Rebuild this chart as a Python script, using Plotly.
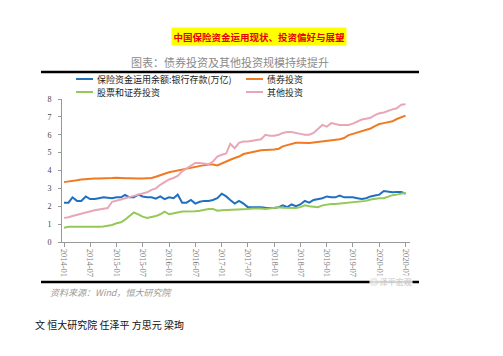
import pandas as pd
import plotly.graph_objects as go

# ---- data (monthly, 2014-01 .. 2020-07), 万亿 ----
months = pd.date_range("2014-01-01", "2020-07-01", freq="MS")

bank_deposit = [2.2, 2.2, 2.5, 2.3, 2.3, 2.55, 2.4, 2.4, 2.45, 2.5, 2.48, 2.45,
                2.5, 2.5, 2.63, 2.5, 2.5, 2.65, 2.55, 2.5, 2.5, 2.42, 2.55, 2.4,
                2.5, 2.45, 2.65, 2.2, 2.2, 2.35, 2.15, 2.25, 2.3, 2.3, 2.35, 2.45,
                2.7, 2.55, 2.35, 2.15, 2.3, 2.15, 1.95, 1.95, 1.98, 1.95, 1.92, 1.9,
                1.9, 1.95, 2.05, 1.95, 2.1, 2.0, 2.1, 2.3, 2.2, 2.35, 2.4, 2.45,
                2.55, 2.5, 2.5, 2.6, 2.5, 2.5, 2.5, 2.45, 2.4, 2.45, 2.55, 2.6,
                2.65, 2.85, 2.8, 2.78, 2.8, 2.8, 2.7]

bonds = [3.35, 3.37, 3.40, 3.45, 3.50, 3.53, 3.55, 3.55, 3.55, 3.55, 3.56, 3.58,
         3.60, 3.57, 3.57, 3.56, 3.54, 3.55, 3.55, 3.55, 3.58, 3.65, 3.75, 3.82,
         3.90, 3.95, 4.00, 4.05, 4.12, 4.18, 4.22, 4.27, 4.30, 4.33, 4.33, 4.28,
         4.40, 4.50, 4.60, 4.70, 4.78, 4.92, 4.98, 5.02, 5.10, 5.13, 5.14, 5.15,
         5.17, 5.22, 5.35, 5.42, 5.50, 5.55, 5.55, 5.53, 5.54, 5.57, 5.60, 5.65,
         5.68, 5.68, 5.70, 5.75, 5.82, 5.98, 6.05, 6.12, 6.18, 6.25, 6.35, 6.48,
         6.60, 6.65, 6.68, 6.75, 6.88, 7.00, 7.07]

stocks = [0.8, 0.85, 0.85, 0.85, 0.83, 0.82, 0.82, 0.84, 0.85, 0.87, 0.9, 0.95,
          1.05, 1.1, 1.25, 1.45, 1.65, 1.55, 1.42, 1.35, 1.38, 1.45, 1.55, 1.7,
          1.55, 1.58, 1.65, 1.7, 1.7, 1.7, 1.72, 1.75, 1.8, 1.85, 1.85, 1.75,
          1.77, 1.78, 1.8, 1.8, 1.8, 1.82, 1.85, 1.88, 1.9, 1.88, 1.85, 1.88,
          1.92, 1.95, 1.92, 1.9, 1.9, 1.9, 1.95, 2.05, 2.0, 1.97, 1.95, 2.05,
          2.1, 2.12, 2.12, 2.15, 2.18, 2.2, 2.22, 2.25, 2.27, 2.3, 2.38, 2.42,
          2.45, 2.45, 2.55, 2.62, 2.65, 2.7, 2.75]

other = [1.35, 1.38, 1.45, 1.52, 1.58, 1.65, 1.72, 1.78, 1.82, 1.86, 1.90, 2.25,
         2.30, 2.38, 2.45, 2.50, 2.58, 2.65, 2.70, 2.78, 2.92, 3.00, 3.20, 3.35,
         3.50, 3.58, 3.70, 3.95, 4.10, 4.30, 4.42, 4.42, 4.38, 4.35, 4.50, 4.78,
         4.88, 4.95, 5.50, 5.25, 5.55, 5.62, 5.62, 5.65, 5.70, 5.75, 6.00, 5.95,
         5.95, 6.00, 6.10, 6.15, 6.15, 6.12, 6.05, 6.00, 6.00, 6.10, 6.35, 6.55,
         6.45, 6.65, 6.60, 6.55, 6.55, 6.55, 6.62, 6.75, 6.85, 6.90, 6.95, 7.10,
         7.20, 7.25, 7.35, 7.42, 7.48, 7.68, 7.70]

series_names = ["保险资金运用余额:银行存款(万亿)", "债券投资", "股票和证券投资", "其他投资"]
series_colors = ["#1f70c1", "#f07a22", "#95c955", "#e9a6b6"]
series_values = [bank_deposit, bonds, stocks, other]

y_ticks = [0, 1, 2, 3, 4, 5, 6, 7, 8]

W, H = 503, 356
L, R, T, B = 54, 402, 91, 234  # plot area in pixels


def px(x):
    return (x - L) / (R - L)


def py(y):
    return (B - y) / (B - T)


fig = go.Figure()
for name, col, vals in zip(series_names, series_colors, series_values):
    fig.add_trace(go.Scatter(x=months, y=vals, mode="lines", name=name,
                             line=dict(color=col, width=2), showlegend=False))

fig.update_layout(
    width=W, height=H,
    margin=dict(l=L, r=W - R, t=T, b=H - B),
    paper_bgcolor="white", plot_bgcolor="white",
    font=dict(family="Liberation Serif, Noto Sans CJK SC", size=8, color="#333"),
)
fig.update_xaxes(
    range=["2013-12-18", "2020-08-01"],
    tickvals=months[::6], tickformat="%Y-%m", tickangle=90,
    tickfont=dict(family="Liberation Serif", size=8.5, color="#777"),
    showline=True, linecolor="#999", linewidth=1,
    ticks="outside", ticklen=4, tickcolor="#999",
    showgrid=False, zeroline=False,
)
fig.update_yaxes(
    range=[0, 8], tickvals=y_ticks,
    tickfont=dict(family="Liberation Serif", size=8, color="#444"),
    showline=True, linecolor="#999", linewidth=1,
    ticks="outside", ticklen=3, tickcolor="#999",
    ticklabelstandoff=5,
    showgrid=False, zeroline=False,
)

shapes = []
annos = []
# header title
annos.append(dict(x=px(251), y=py(28.5), xref="paper", yref="paper",
                  text="<b>中国保险资金运用现状、投资偏好与展望</b>", showarrow=False,
                  font=dict(family="Noto Sans CJK SC", size=9.5, color="#e60000"),
                  bgcolor="#ffff00", borderpad=1.5, xanchor="center", yanchor="middle"))
# chart caption
annos.append(dict(x=px(222), y=py(54), xref="paper", yref="paper",
                  text="图表：债券投资及其他投资规模持续提升", showarrow=False,
                  font=dict(family="Noto Sans CJK SC", size=11, color="#8a8a8a"),
                  xanchor="center", yanchor="middle"))
# thick rules
shapes.append(dict(type="line", xref="paper", yref="paper",
                   x0=px(33), x1=px(411), y0=py(64), y1=py(64),
                   line=dict(color="black", width=2.5)))
shapes.append(dict(type="line", xref="paper", yref="paper",
                   x0=px(33), x1=px(411), y0=py(274), y1=py(274),
                   line=dict(color="black", width=2.5)))
# manual legend
leg_pos = [(68, 71), (238, 71), (68, 84), (238, 84)]
for (lx, ly), name, col in zip(leg_pos, series_names, series_colors):
    shapes.append(dict(type="line", xref="paper", yref="paper",
                       x0=px(lx), x1=px(lx + 17), y0=py(ly), y1=py(ly),
                       line=dict(color=col, width=2)))
    annos.append(dict(x=px(lx + 19), y=py(ly), xref="paper", yref="paper",
                      text=name, showarrow=False,
                      font=dict(family="Noto Sans CJK SC", size=9, color="#222"),
                      xanchor="left", yanchor="middle"))
# watermark
annos.append(dict(x=px(383), y=py(273), xref="paper", yref="paper",
                  text="◎ 泽平宏观", showarrow=False,
                  font=dict(family="Noto Sans CJK SC", size=8, color="#c4c4c4"),
                  bgcolor="rgba(255,255,255,0.85)", borderpad=0,
                  xanchor="center", yanchor="middle"))
# source
annos.append(dict(x=px(40), y=py(284), xref="paper", yref="paper",
                  text="<i>资料来源：Wind，恒大研究院</i>", showarrow=False,
                  font=dict(family="Noto Sans CJK SC", size=9, color="#999"),
                  xanchor="left", yanchor="middle"))
# footer
annos.append(dict(x=px(25), y=py(316), xref="paper", yref="paper",
                  text="文 恒大研究院 任泽平 方思元 梁珣", showarrow=False,
                  font=dict(family="Noto Sans CJK SC", size=10, color="#111"),
                  xanchor="left", yanchor="middle"))

fig.update_layout(shapes=shapes, annotations=annos)
fig.write_html("out.html")
